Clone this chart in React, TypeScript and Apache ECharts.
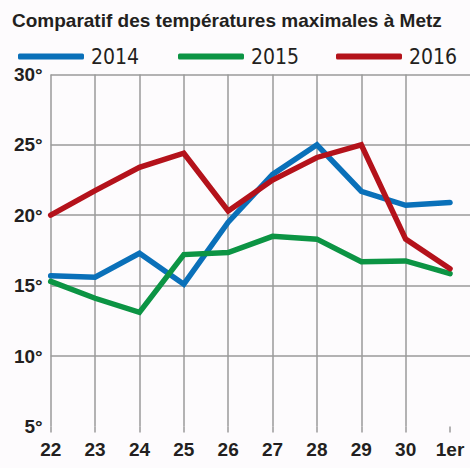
import React, { useEffect, useRef } from "react";
import * as echarts from "echarts";

const categories = ["22", "23", "24", "25", "26", "27", "28", "29", "30", "1er"];
const series2014 = [15.7, 15.6, 17.3, 15.1, 19.5, 22.9, 25.0, 21.7, 20.7, 20.9];
const series2015 = [15.3, 14.1, 13.1, 17.2, 17.35, 18.5, 18.3, 16.7, 16.75, 15.85];
const series2016 = [20.0, 21.75, 23.4, 24.4, 20.3, 22.5, 24.1, 25.0, 18.3, 16.2];
const yTicks = [5, 10, 15, 20, 25, 30];

const BLUE = "#0a70b9";
const GREEN = "#0c9444";
const RED = "#b4121b";
const GRID = "#9a9a9a";
const TEXT = "#231f20";
const NARROW = "'Liberation Sans Narrow', 'DejaVu Sans Condensed', 'Liberation Sans', sans-serif";
const BOLD = "'Liberation Sans', Arial, sans-serif";

export default function App() {
  const ref = useRef<HTMLDivElement>(null);
  useEffect(() => {
    if (!ref.current) return;
    const chart = echarts.init(ref.current, undefined, { renderer: "svg" });
    const toPts = (arr: number[]) => arr.map((v, i) => [i, v]);
    const mk = (name: string, data: number[], color: string) => ({
      name,
      type: "line",
      data: toPts(data),
      showSymbol: false,
      symbol: "none",
      lineStyle: { color, width: 5.5, cap: "round", join: "miter" },
      itemStyle: { color },
      z: 3,
    });
    const legendBase = {
      top: 46,
      itemWidth: 66,
      itemHeight: 6,
      itemGap: 10,
      icon: "roundRect",
      textStyle: { fontFamily: NARROW, fontSize: 21, color: TEXT, padding: [0, 0, 0, 2] },
      padding: 0,
    };
    chart.setOption({
      animation: false,
      backgroundColor: "#fdfbfd",
      title: {
        text: "Comparatif des températures maximales à Metz",
        left: 12,
        top: 11,
        padding: 0,
        textStyle: { fontFamily: BOLD, fontSize: 19, fontWeight: "bold", color: TEXT },
      },
      legend: [
        { ...legendBase, left: 18, data: ["2014"] },
        { ...legendBase, left: 178, data: ["2015"] },
        { ...legendBase, left: 336, data: ["2016"] },
      ],
      grid: { left: 50.7, right: 0, top: 74.4, bottom: 468 - 426.4, containLabel: false },
      xAxis: {
        type: "value",
        min: 0,
        max: 9.45,
        interval: 1,
        axisLine: { show: false },
        axisTick: {
          show: true,
          length: 6,
          customValues: categories.map((_, i) => i),
          lineStyle: { color: GRID, width: 1.5 },
        },
        splitLine: { show: true, showMaxLine: false, lineStyle: { color: GRID, width: 1.5 } },
        axisLabel: {
          customValues: categories.map((_, i) => i),
          formatter: (v: number) => (Number.isInteger(v) && categories[v] !== undefined ? categories[v] : ""),
          margin: 14,
          fontFamily: BOLD,
          fontSize: 19,
          fontWeight: "bold",
          color: TEXT,
        },
      },
      yAxis: {
        type: "value",
        min: 5,
        max: 30,
        interval: 5,
        axisLine: { show: false },
        axisTick: { show: false },
        splitLine: { show: true, showMinLine: false, lineStyle: { color: GRID, width: 1.5 } },
        axisLabel: {
          customValues: yTicks,
          formatter: (v: number) => `${v}°`,
          margin: 8,
          fontFamily: BOLD,
          fontSize: 19,
          fontWeight: "bold",
          color: TEXT,
        },
      },
      series: [mk("2014", series2014, BLUE), mk("2015", series2015, GREEN), mk("2016", series2016, RED)],
    });
    return () => chart.dispose();
  }, []);
  return <div ref={ref} style={{ width: 470, height: 468, position: "fixed", left: 0, top: 0 }} />;
}
